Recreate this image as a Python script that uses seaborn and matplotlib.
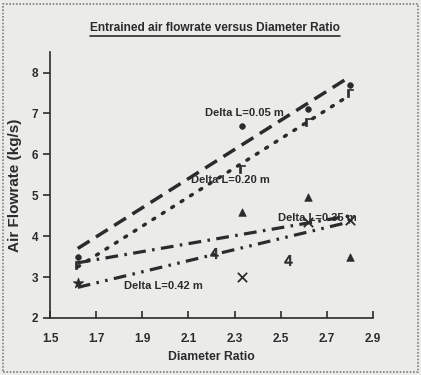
import matplotlib
matplotlib.use('Agg')
import matplotlib.pyplot as plt
import seaborn as sns
from matplotlib.lines import Line2D
from matplotlib.patches import Rectangle

# Values
ratio = [1.62, 2.33, 2.62, 2.80]
flow_005 = [3.50, 6.70, 7.10, 7.70]
flow_020 = [3.30, 5.65, 6.80, 7.50]
flow_035 = [3.30, 4.60, 4.95, 3.50]
flow_042 = [2.85, 3.00, 4.35, 4.40]
extra_ratio = [2.21, 2.53]
extra_flow = [3.58, 3.41]

# Trend lines: value at first and last diameter ratio
trend_ratio = [1.62, 2.80]
trend_005 = [3.70, 7.90]
trend_020 = [3.25, 7.45]
trend_035 = [3.35, 4.50]
trend_042 = [2.75, 4.35]

series_labels = ['Delta L=0.05 m', 'Delta L=0.20 m', 'Delta L=0.35 m', 'Delta L=0.42 m']
x_ticks = [1.5, 1.7, 1.9, 2.1, 2.3, 2.5, 2.7, 2.9]
y_ticks = [2, 3, 4, 5, 6, 7, 8]

sns.set_style('ticks')
plt.rcParams['font.family'] = ['Liberation Sans', 'DejaVu Sans']
ink = '#2b2b2b'
paper = '#ebebe9'

fig = plt.figure(figsize=(4.21, 3.75), dpi=100, facecolor=paper)
ax = fig.add_axes([0.119, 0.152, 0.767, 0.709])
ax.set_facecolor(paper)

# trend lines
sns.lineplot(x=trend_ratio, y=trend_005, ax=ax, color=ink, lw=2.5, linestyle=(0, (4, 2.2)))
sns.lineplot(x=trend_ratio, y=trend_020, ax=ax, color=ink, lw=2.5, linestyle=(0, (0.6, 2.6)), dash_capstyle='round')
sns.lineplot(x=trend_ratio, y=trend_035, ax=ax, color=ink, lw=2.3, linestyle=(0, (4, 2, 0.8, 2)))
sns.lineplot(x=trend_ratio, y=trend_042, ax=ax, color=ink, lw=2.3, linestyle=(0, (4, 2, 0.8, 2, 0.8, 2)))

# markers
sns.scatterplot(x=ratio, y=flow_005, ax=ax, marker='o', s=18, color=ink, edgecolor=ink, zorder=3)
sns.scatterplot(x=ratio, y=flow_020, ax=ax, marker='$\\Gamma$', s=35, color=ink, edgecolor=ink, zorder=3)
sns.scatterplot(x=ratio[1:], y=flow_035[1:], ax=ax, marker='^', s=30, color=ink, edgecolor=ink, zorder=3)
sns.scatterplot(x=ratio[:1], y=flow_042[:1], ax=ax, marker='*', s=60, color=ink, edgecolor=ink, zorder=3)
sns.scatterplot(x=ratio[1:], y=flow_042[1:], ax=ax, marker='x', s=45, color=ink, linewidth=1.3, zorder=3)
sns.scatterplot(x=extra_ratio, y=extra_flow, ax=ax, marker='$4$', s=55, color=ink, edgecolor=ink, zorder=3)

# series labels
for lab, lx, ly in zip(series_labels, [2.17, 2.11, 2.49, 1.82], [7.02, 5.37, 4.44, 2.78]):
    ax.text(lx, ly, lab, fontsize=8, color=ink, fontweight='bold', va='center', ha='left', zorder=4)

ax.set_xlim(1.5, 2.9)
ax.set_ylim(2, 8.5)
ax.set_xticks(x_ticks)
ax.set_xticklabels([f'{v:.1f}' for v in x_ticks])
ax.set_yticks(y_ticks)
sns.despine(ax=ax)
for s in ['left', 'bottom']:
    ax.spines[s].set_color(ink)
    ax.spines[s].set_linewidth(1.2)
ax.tick_params(axis='x', direction='in', length=5, width=1.2, colors=ink, labelsize=8.5, pad=11)
ax.tick_params(axis='y', direction='out', length=5, width=1.2, colors=ink, labelsize=8.5)
for t in ax.get_xticklabels() + ax.get_yticklabels():
    t.set_fontweight('bold')

ax.set_xlabel('Diameter Ratio', fontsize=8.8, color=ink, fontweight='bold', labelpad=4)
ax.set_ylabel('Air Flowrate (kg/s)', fontsize=11, color=ink, fontweight='bold', labelpad=7)

title = fig.text(0.51, 0.925, 'Entrained air flowrate versus Diameter Ratio', ha='center', va='center',
                 fontsize=8.6, color=ink, fontweight='bold')

# underline the title
fig.canvas.draw()
bb = title.get_window_extent().transformed(fig.transFigure.inverted())
fig.add_artist(Line2D([bb.x0, bb.x1], [bb.y0 - 0.004, bb.y0 - 0.004], color=ink, lw=1.2))

# page border from the scan
fig.add_artist(Rectangle((0.008, 0.008), 0.984, 0.982, transform=fig.transFigure, fill=False,
                         ec='#808080', lw=1.2, ls=(0, (1, 1))))

fig.savefig('out.png', dpi=100, facecolor=paper)
